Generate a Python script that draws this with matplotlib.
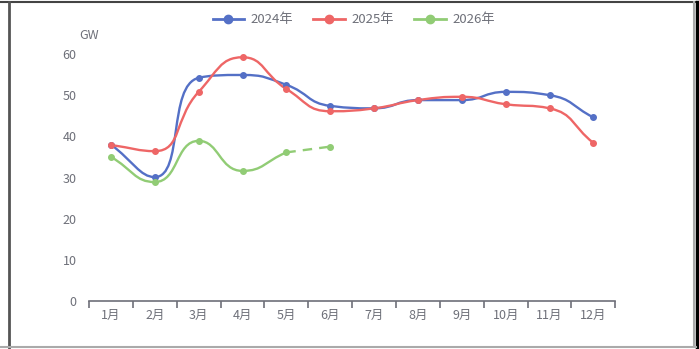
import numpy as np
import matplotlib.pyplot as plt
from matplotlib.path import Path
from matplotlib.patches import PathPatch
from matplotlib.lines import Line2D

plt.rcParams['font.family'] = ['Noto Sans CJK SC', 'DejaVu Sans']

months = ['1月', '2月', '3月', '4月', '5月', '6月', '7月', '8月', '9月', '10月', '11月', '12月']
gw_2024 = [38.0, 30.1, 54.2, 54.9, 52.5, 47.4, 46.8, 48.8, 48.8, 50.8, 50.0, 44.6]
gw_2025 = [37.9, 36.4, 50.8, 59.2, 51.5, 46.1, 46.8, 48.8, 49.6, 47.8, 46.8, 38.4]
gw_2026 = [35.0, 28.9, 38.9, 31.6, 36.1, 37.5]
n_solid_2026 = 5  # last segment (5月 -> 6月) is a forecast, drawn dashed

c24, c25, c26 = '#5470c6', '#ee6666', '#91cc75'
grey = '#6e7079'

fig = plt.figure(figsize=(6.99, 3.49), dpi=100)
ax = fig.add_axes([0.1273, 0.1375, 0.753, 0.7078])
ax.set_xlim(-0.5, 11.5)
ax.set_ylim(0, 60)


def clamp(v, a, b):
    return min(max(v, min(a, b)), max(a, b))


def smooth_path(xs, ys, smooth=0.5):
    # echarts-like smoothing, control points clamped so the curve
    # never goes past the neighbouring points (done in pixel space)
    pts = ax.transData.transform(np.column_stack([xs, ys]))
    n = len(pts)
    cin, cout = [None] * n, [None] * n
    for i in range(n):
        x, y = pts[i]
        px, py = pts[max(i - 1, 0)]
        nx, ny = pts[min(i + 1, n - 1)]
        lp = np.hypot(x - px, y - py)
        ln = np.hypot(nx - x, ny - y)
        if lp == 0:
            cin[i] = (x, y)
            cout[i] = (x + (nx - x) * smooth, y + (ny - y) * smooth)
            continue
        if ln == 0:
            cout[i] = (x, y)
            cin[i] = (x - (x - px) * smooth, y - (y - py) * smooth)
            continue
        vx, vy = nx - px, ny - py
        r = ln / (ln + lp)
        c0x = clamp(x + vx * smooth * r, nx, x)
        c0y = clamp(y + vy * smooth * r, ny, y)
        vx, vy = c0x - x, c0y - y
        c1x = clamp(x - vx * lp / ln, px, x)
        c1y = clamp(y - vy * lp / ln, py, y)
        vx, vy = x - c1x, y - c1y
        cin[i] = (c1x, c1y)
        cout[i] = (x + vx * ln / lp, y + vy * ln / lp)
    verts, codes = [tuple(pts[0])], [Path.MOVETO]
    for i in range(n - 1):
        verts += [cout[i], cin[i + 1], tuple(pts[i + 1])]
        codes += [Path.CURVE4] * 3
    verts = ax.transData.inverted().transform(np.array(verts))
    return Path(verts, codes)


x = np.arange(12)
lw = 1.7
for ys, col in [(gw_2024, c24), (gw_2025, c25)]:
    ax.add_patch(PathPatch(smooth_path(x[:len(ys)], ys), fill=False, edgecolor=col, lw=lw, zorder=3))
    ax.scatter(x[:len(ys)], ys, s=16, color=col, zorder=4)

x26 = x[:len(gw_2026)]
ax.add_patch(PathPatch(smooth_path(x26[:n_solid_2026], gw_2026[:n_solid_2026]),
                       fill=False, edgecolor=c26, lw=lw, zorder=3))
ax.plot(x26[n_solid_2026 - 1:], gw_2026[n_solid_2026 - 1:], color=c26, lw=lw,
        ls=(0, (4, 3)), zorder=3)
ax.scatter(x26, gw_2026, s=16, color=c26, zorder=4)

# axes styling
for side in ['top', 'right', 'left']:
    ax.spines[side].set_visible(False)
ax.spines['bottom'].set_color(grey)
ax.spines['bottom'].set_linewidth(1.2)
ax.set_xticks(x)
ax.set_xticklabels(months)
ax.set_xticks(np.arange(-0.5, 12, 1), minor=True)
ax.tick_params(axis='x', which='major', length=0, pad=6, labelsize=9, labelcolor=grey)
ax.tick_params(axis='x', which='minor', length=5, width=1.2, color=grey)
ax.set_yticks(range(0, 61, 10))
ax.tick_params(axis='y', length=0, pad=9, labelsize=9, labelcolor=grey)
ax.text(-0.5, 64.5, 'GW', color=grey, fontsize=9, ha='center', va='center')

handles = [Line2D([], [], color=c, lw=2, marker='o', markersize=6) for c in (c24, c25, c26)]
fig.legend(handles, ['2024年', '2025年', '2026年'], loc='center', bbox_to_anchor=(0.506, 0.943),
           ncol=3, frameon=False, fontsize=9.5, labelcolor=grey, handlelength=2.4,
           handletextpad=0.5, columnspacing=1.5)

# frame around the picture
fig.add_artist(Line2D([0, 0.996], [0.995, 0.995], color='#444444', lw=1.5, transform=fig.transFigure))
fig.add_artist(Line2D([0.0125, 0.0125], [0, 0.995], color='#555555', lw=2, transform=fig.transFigure))
fig.add_artist(Line2D([0.993, 0.993], [0.006, 0.995], color='#aaaaaa', lw=1.5, transform=fig.transFigure))
fig.add_artist(Line2D([0.997, 0.997], [0, 0.995], color='black', lw=2.5, transform=fig.transFigure))
fig.add_artist(Line2D([0, 0.996], [0.007, 0.007], color='#aaaaaa', lw=1.5, transform=fig.transFigure))

fig.savefig('out.png', dpi=100)
